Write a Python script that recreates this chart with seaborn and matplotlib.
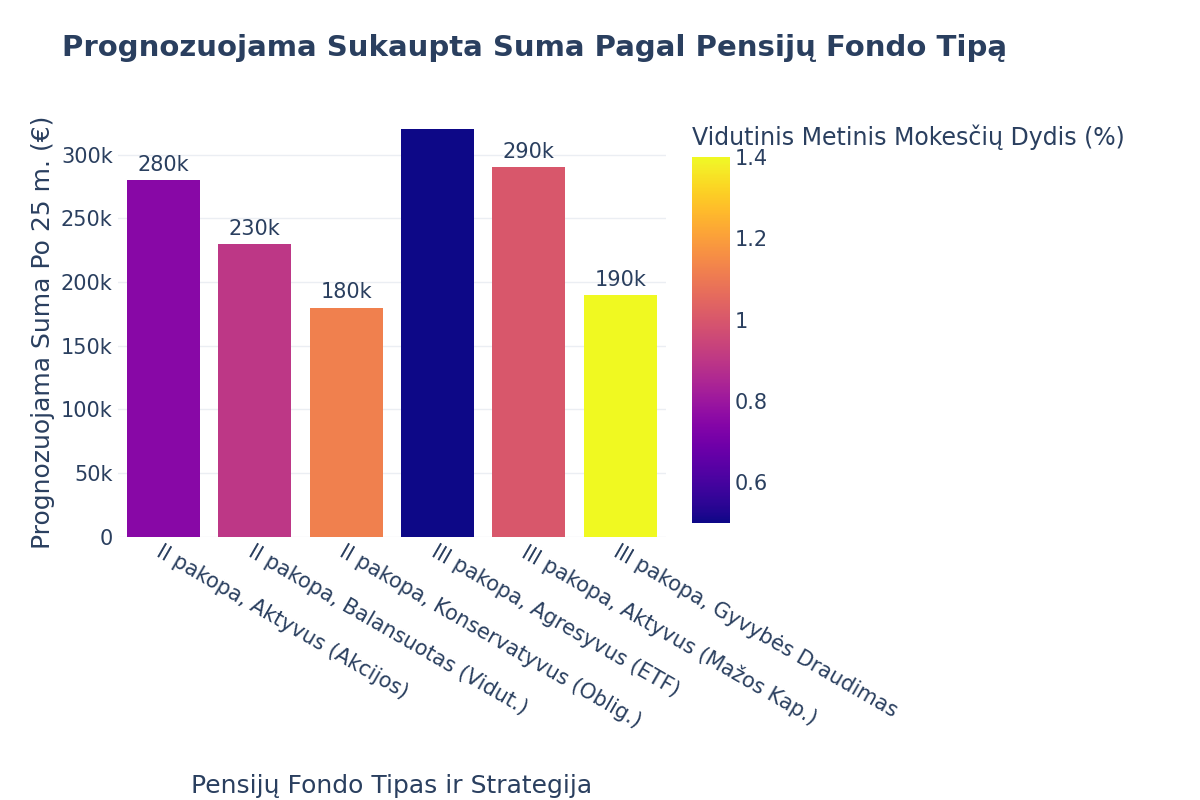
import matplotlib
matplotlib.use("Agg")
import matplotlib.pyplot as plt
import seaborn as sns
import pandas as pd
import numpy as np

categories = ["II pakopa, Aktyvus (Akcijos)", "II pakopa, Balansuotas (Vidut.)",
              "II pakopa, Konservatyvus (Oblig.)", "III pakopa, Agresyvus (ETF)",
              "III pakopa, Aktyvus (Mažos Kap.)", "III pakopa, Gyvybės Draudimas"]
amounts = [280000, 230000, 180000, 320000, 290000, 190000]
fees = [0.75, 0.9, 1.12, 0.5, 1.0, 1.4]

plt.rcParams["font.family"] = "DejaVu Sans"
txt = "#2a3f5f"
fig = plt.figure(figsize=(12, 8), dpi=100)
ax = fig.add_axes([0.098, 0.329, 0.457, 0.511])
cmap = plt.get_cmap("plasma")
norm = matplotlib.colors.Normalize(vmin=0.5, vmax=1.4)
df = pd.DataFrame({"cat": categories, "amt": amounts})
pal = [cmap(norm(f)) for f in fees]
sns.barplot(data=df, x="cat", y="amt", hue="cat", palette=pal, legend=False, ax=ax, width=0.8, saturation=1)
ax.set_ylim(0, 321000)
ax.set_xlim(-0.5, 5.5)
ax.set_yticks(np.arange(0, 300001, 50000))
ax.set_yticklabels(["0"] + [f"{v//1000}k" for v in range(50000, 300001, 50000)], fontsize=15, color=txt)
ax.yaxis.grid(True, color="#ebeef3", lw=1)
ax.set_axisbelow(True)
for s in ax.spines.values():
    s.set_visible(False)
ax.tick_params(length=0)
ax.set_xticks(range(6))
ax.set_xticklabels(categories, rotation=-30, ha="left", rotation_mode="anchor", fontsize=15, color=txt)
for i, v in enumerate(amounts):
    ax.text(i, v + 4000, f"{v//1000}k", ha="center", va="bottom", fontsize=15, color=txt, clip_on=True)
ax.set_xlabel("Pensijų Fondo Tipas ir Strategija", fontsize=18, color=txt, labelpad=15)
ax.xaxis.set_label_coords(0.5, -0.58)
ax.set_ylabel("Prognozuojama Suma Po 25 m. (€)", fontsize=18, color=txt)
fig.text(0.052, 0.94, "Prognozuojama Sukaupta Suma Pagal Pensijų Fondo Tipą", fontsize=21,
         fontweight="bold", color=txt, va="center")
cax = fig.add_axes([0.577, 0.346, 0.031, 0.458])
cb = fig.colorbar(matplotlib.cm.ScalarMappable(norm=norm, cmap=cmap), cax=cax)
cb.outline.set_visible(False)
cb.set_ticks([0.6, 0.8, 1.0, 1.2, 1.4])
cb.set_ticklabels(["0.6", "0.8", "1", "1.2", "1.4"])
cax.tick_params(length=0, labelsize=15, labelcolor=txt)
fig.text(0.577, 0.828, "Vidutinis Metinis Mokesčių Dydis (%)", fontsize=17, color=txt, va="center")
fig.savefig("out.png")
